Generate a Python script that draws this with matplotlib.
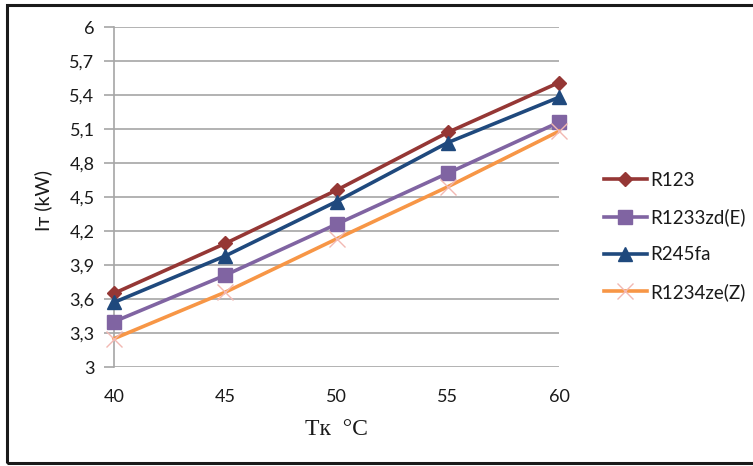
import matplotlib
matplotlib.use("Agg")
import matplotlib.pyplot as plt
from matplotlib.patches import Rectangle
from matplotlib.ticker import FixedLocator

# Condensing temperature, °C
temps = [40, 45, 50, 55, 60]

# Turbine power, kW
r123 = [3.65, 4.09, 4.56, 5.07, 5.51]
r1233zd = [3.40, 3.81, 4.26, 4.71, 5.16]
r245fa = [3.57, 3.98, 4.46, 4.98, 5.38]
r1234ze = [3.25, 3.66, 4.13, 4.59, 5.08]

series_names = ["R123", "R1233zd(E)", "R245fa", "R1234ze(Z)"]
y_ticks = [3, 3.3, 3.6, 3.9, 4.2, 4.5, 4.8, 5.1, 5.4, 5.7, 6]
y_tick_labels = ["3", "3,3", "3,6", "3,9", "4,2", "4,5", "4,8", "5,1", "5,4", "5,7", "6"]

W, H = 753, 466
fig = plt.figure(figsize=(W / 100, H / 100), dpi=100)
fig.patch.set_facecolor("white")

# outer frame of the chart
fig.patches.append(Rectangle((7 / W, 3 / H), 1.2, (463 - 5) / H,
                             transform=fig.transFigure, fill=False,
                             edgecolor="#1a1a1a", linewidth=2.2, zorder=10))

ax = fig.add_axes([114 / W, 1 - 367 / H, (559 - 114) / W, (367 - 27) / H])

font = "Lato"
styles = [
    dict(color="#953735", marker="D", ms=7.5, mfc="#953735", mec="#953735"),
    dict(color="#8064A2", marker="s", ms=10, mfc="#8064A2", mec="#8064A2"),
    dict(color="#1F497D", marker="^", ms=10.5, mfc="#1F497D", mec="#1F497D"),
    dict(color="#F79646", marker="x", ms=11, mfc="#F2B8B2", mec="#F2B8B2", mew=1.0),
]
for vals, name, st in zip([r123, r1233zd, r245fa, r1234ze], series_names, styles):
    ax.plot(temps, vals, lw=2.6, label=name, clip_on=False, zorder=3, **st)

ax.set_xlim(40, 60)
ax.set_ylim(3, 6)
ax.yaxis.set_major_locator(FixedLocator(y_ticks))
ax.set_yticklabels(y_tick_labels)
ax.set_xticks(temps)
ax.grid(axis="y", color="#a6a6a6", lw=1.2)
ax.set_axisbelow(True)
for side in ["top", "right", "bottom"]:
    ax.spines[side].set_visible(False)
ax.spines["left"].set_color("#a6a6a6")
ax.spines["left"].set_linewidth(1.2)
ax.tick_params(axis="y", length=7, color="#a6a6a6", width=1.2, pad=7,
               labelsize=13, labelcolor="#1a1a1a")
ax.tick_params(axis="x", length=0, pad=16, labelsize=13, labelcolor="#1a1a1a")
for lbl in ax.get_xticklabels() + ax.get_yticklabels():
    lbl.set_fontfamily(font)

ax.set_xlabel("Tк  °C", fontfamily="Liberation Serif", fontsize=17, labelpad=10,
              color="#1a1a1a")
ax.set_ylabel("Iт (kW)", fontfamily=font, fontsize=14, color="#1a1a1a")
ax.yaxis.set_label_coords(-0.14, 0.49)

leg = fig.legend(loc="upper left", bbox_to_anchor=(587 / W, 1 - 155 / H),
                 frameon=False, prop={"family": font, "size": 13.5},
                 handlelength=2.3, labelspacing=1.05, handletextpad=0.15)
for t in leg.get_texts():
    t.set_color("#1a1a1a")

fig.savefig("out.png", dpi=100, facecolor="white")
